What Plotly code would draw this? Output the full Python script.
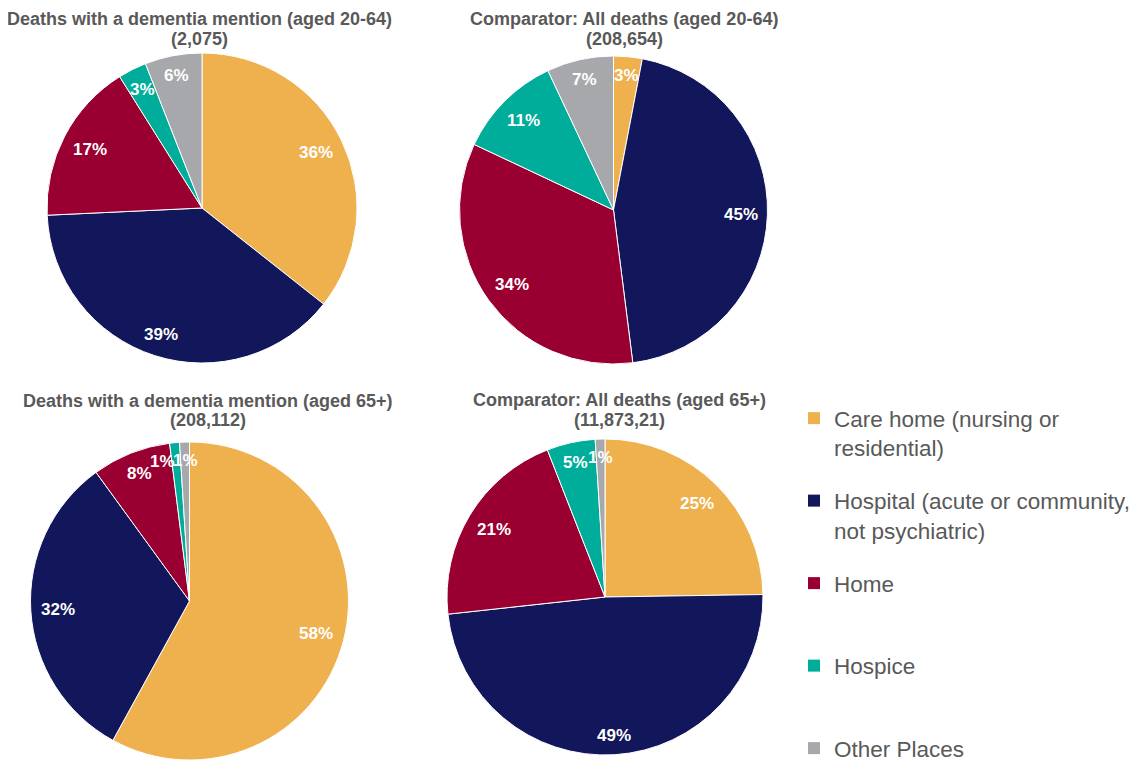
import math
import plotly.graph_objects as go

W, H = 1138, 760
OFF = 8  # page body margin of the html page

categories = ["Care home (nursing or residential)",
              "Hospital (acute or community, not psychiatric)",
              "Home", "Hospice", "Other Places"]
legend_names = ["Care home (nursing or<br>residential)",
                "Hospital (acute or community,<br>not psychiatric)",
                "Home<br> ", "Hospice<br> ", "Other Places"]
colors = ["#EFB04E", "#12165B", "#990031", "#00AC9A", "#A7A8AC"]

title_line1 = ["Deaths with a dementia mention (aged 20-64)",
               "Comparator: All deaths (aged 20-64)",
               "Deaths with a dementia mention (aged 65+)",
               "Comparator: All deaths (aged 65+)"]
title_line2 = ["(2,075)", "(208,654)", "(208,112)", "(11,873,21)"]

dementia_20_64 = [36, 39, 17, 3, 6]
all_20_64 = [3, 45, 34, 11, 7]
dementia_65 = [58, 32, 8, 1, 1]
all_65 = [25, 49, 21, 5, 1]
series = [dementia_20_64, all_20_64, dementia_65, all_65]

# layout (screen pixels): pie centre / radius, title centres
geoms = [(202, 208, 155), (613.5, 210, 154), (189.5, 601, 159), (605, 597, 158)]
title_pos = [(199, 19, 39), (624, 19, 39), (208, 401, 420), (619, 400, 420)]

FONT = "Arial, Liberation Sans, sans-serif"
LBL_FS = 17


def px_x(x):
    return (x - OFF) / W


def px_y(y):
    return 1 - (y - OFF) / H


fig = go.Figure()
annotations = []
for vals, (cx, cy, r) in zip(series, geoms):
    fig.add_trace(go.Pie(
        labels=categories, values=vals, sort=False, direction="clockwise",
        rotation=0, textinfo="none",
        marker=dict(colors=colors, line=dict(color="white", width=1)),
        showlegend=False, hovertemplate="%{label}: %{value}%<extra></extra>",
        domain=dict(x=[px_x(cx - r), px_x(cx + r)], y=[px_y(cy + r), px_y(cy - r)]),
    ))
    # data labels placed inside each slice, near its outer end
    total = sum(vals)
    cum = 0
    pos = []
    for v in vals:
        theta = 2 * math.pi * (cum + v / 2) / total
        cum += v
        s, c = math.sin(theta), -math.cos(theta)
        txt = f"{v}%"
        w = (0.556 * (len(txt) - 1) + 0.889) * LBL_FS
        h = LBL_FS
        d = 0.94 * r - (w / 2 * abs(s) + h / 2 * abs(c))
        pos.append([cx + d * s, cy + d * c, txt, w])
    # resolve horizontal collisions between neighbouring small-slice labels
    for i in range(len(pos) - 2, -1, -1):
        a, b = pos[i], pos[i + 1]
        if abs(a[1] - b[1]) < LBL_FS and abs(a[0] - b[0]) < 23:
            a[0] = b[0] - 23
    for x, y, txt, _ in pos:
        annotations.append(dict(text=f"<b>{txt}</b>", x=px_x(x), y=px_y(y), xref="paper",
                                yref="paper", showarrow=False, xanchor="center", yanchor="middle",
                                font=dict(family=FONT, size=LBL_FS, color="white")))

# legend entries
for i, (name, c) in enumerate(zip(legend_names, colors)):
    fig.add_trace(go.Scatter(x=[None], y=[None], mode="markers", name=name,
                             legendgroup=f"g{i}",
                             marker=dict(symbol="square", size=12, color=c),
                             showlegend=True, hoverinfo="skip"))

for l1, l2, (tx, ty1, ty2) in zip(title_line1, title_line2, title_pos):
    for t, ty in ((l1, ty1), (l2, ty2)):
        annotations.append(dict(text=f"<b>{t}</b>", x=px_x(tx), y=px_y(ty), xref="paper",
                                yref="paper", showarrow=False, xanchor="center", yanchor="middle",
                                font=dict(family=FONT, size=18, color="#595959")))

fig.update_layout(
    width=W, height=H, margin=dict(l=0, r=0, t=0, b=0, autoexpand=False),
    paper_bgcolor="white", plot_bgcolor="white",
    annotations=annotations,
    xaxis=dict(visible=False), yaxis=dict(visible=False),
    legend=dict(x=px_x(794), y=px_y(397), xanchor="left", yanchor="top",
                font=dict(family=FONT, size=22.5, color="#595959"),
                traceorder="grouped", tracegroupgap=21, valign="top",
                itemwidth=30, bgcolor="rgba(0,0,0,0)"),
)

fig.write_html("out.html")
